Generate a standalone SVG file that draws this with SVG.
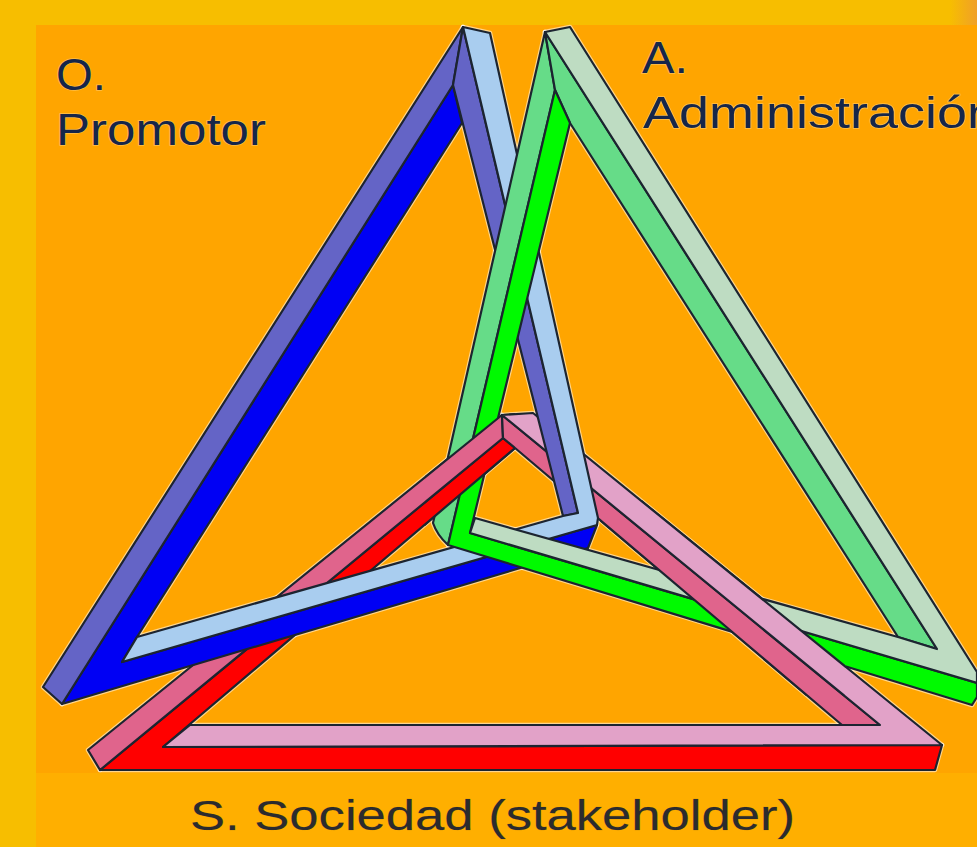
<svg xmlns="http://www.w3.org/2000/svg" xmlns:xlink="http://www.w3.org/1999/xlink" width="977" height="847" viewBox="0 0 977 847">
<style>
.line{stroke:#1c2430;stroke-width:2.2;stroke-linejoin:round}
.halo{stroke:#fff;stroke-opacity:.55;stroke-width:4.5;stroke-linejoin:round}
.bl1{fill:#0000f4}.bl2{fill:#6464c6}.bl3{fill:#a9cdef}
.gr1{fill:#00fa00}.gr2{fill:#66dc88}.gr3{fill:#bedcc2}
.rd1{fill:#ff0000}.rd2{fill:#e0648c}.rd3{fill:#e2a2c8}
text{font-family:"Liberation Sans",Arial,sans-serif;fill:#16264a;stroke:#fff;stroke-opacity:.3;stroke-width:1.4;paint-order:stroke}
text.dark{fill:#2b2b2e;stroke:#2b2b2e;stroke-opacity:.25;stroke-width:.6}
</style>
<defs>
<linearGradient id="corner" x1="0" x2="1" y1="0" y2="0"><stop offset="0" stop-color="#f7be00"/><stop offset="1" stop-color="#f0a028"/></linearGradient>
<g id="blueShape">
<polygon class="bl1" points="453,85 62,704 588,548 597,525 122,662 137,637 462,123"/>
<polygon class="bl2" points="463,27 43,687 62,704 453,85"/>
<polygon class="bl2" points="463,27 453,85 563,516 578,513"/>
<polygon class="bl3" points="463,27 490,33 598,518 597,525 122,662 137,637 563,516 578,513"/>
</g>
<g id="greenShape">
<path class="gr2" d="M545,32 L433,523 Q437,535 448,545 L555,90 Z"/>
<polygon class="gr2" points="545,32 937,649 898,637 570,123 555,90"/>
<polygon class="gr1" points="555,90 448,545 972,705 977,697 977,683 470,533 570,123"/>
<polygon class="gr3" points="545,32 570,27 977,672 977,683 470,533 475,518 898,637 937,649"/>
</g>
<g id="redShape">
<polygon class="rd1" points="503,438 100,770 935,770 942,745 163,747 515,448"/>
<polygon class="rd2" points="502,415 88,750 100,770 503,438"/>
<polygon class="rd2" points="502,415 503,438 515,448 842,725 880,725"/>
<polygon class="rd3" points="502,415 533,413 942,745 163,747 190,725 880,725"/>
</g>
<clipPath id="over1"><rect x="425" y="405" width="90" height="130"/></clipPath>
<clipPath id="over2"><rect x="600" y="500" width="245" height="196"/></clipPath>
</defs>
<rect id="frame" width="977" height="847" fill="#f7be00"/>
<rect x="950" y="0" width="27" height="25" fill="url(#corner)"/>
<rect id="field" x="36" y="25" width="941" height="748" fill="#ffa500"/>
<rect id="strip" x="36" y="773" width="941" height="74" fill="#ffaf00"/>
<g id="halo">
<use href="#redShape" class="halo"/>
<use href="#blueShape" class="halo"/>
<use href="#greenShape" class="halo"/>
</g>
<use id="triangle-s" href="#redShape" class="line"/>
<use id="triangle-o" href="#blueShape" class="line"/>
<use id="triangle-a" href="#greenShape" class="line"/>
<g id="s-over-a">
<use href="#redShape" class="line" clip-path="url(#over1)"/>
<use href="#redShape" class="line" clip-path="url(#over2)"/>
</g>
<g id="labels">
<text x="56" y="90" font-size="44" textLength="50" lengthAdjust="spacingAndGlyphs">O.</text>
<text x="56" y="145" font-size="44" textLength="210" lengthAdjust="spacingAndGlyphs">Promotor</text>
<text x="642" y="73" font-size="44" textLength="46" lengthAdjust="spacingAndGlyphs">A.</text>
<text x="643" y="128" font-size="44" textLength="354" lengthAdjust="spacingAndGlyphs">Administración</text>
<text class="dark" x="190" y="830" font-size="43" textLength="605" lengthAdjust="spacingAndGlyphs">S. Sociedad (stakeholder)</text>
</g>
</svg>
